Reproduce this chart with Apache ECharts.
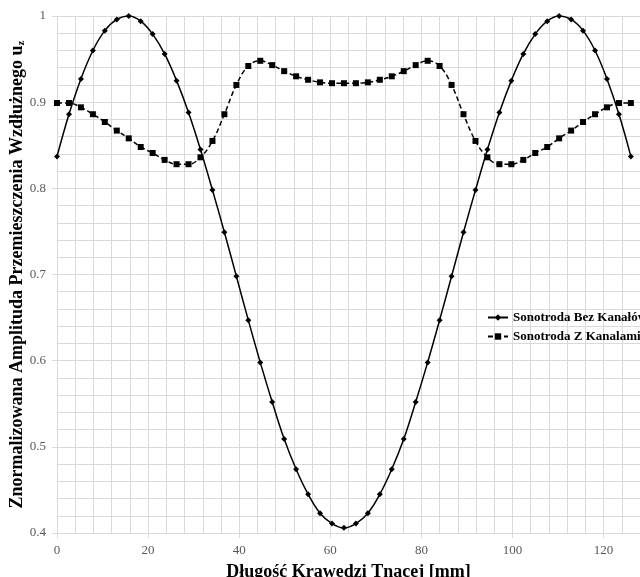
<!DOCTYPE html>
<html>
<head>
<meta charset="utf-8">
<script src="https://cdn.jsdelivr.net/npm/echarts@6/dist/echarts.min.js"></script>
<style>
    html, body { margin: 0; padding: 0; background: #fff; }
    #main { width: 640px; height: 577px; }
</style>
</head>
<body>
<div id="main"></div>
<script>
// położenie wzdłuż krawędzi [mm]
var xValues = [0, 2.63, 5.25, 7.88, 10.5, 13.13, 15.75, 18.38, 21, 23.63, 26.25, 28.88, 31.5, 34.13, 36.75, 39.38,
    42, 44.63, 47.25, 49.88, 52.5, 55.13, 57.75, 60.38, 63, 65.63, 68.25, 70.88, 73.5, 76.13, 78.75, 81.38,
    84, 86.63, 89.25, 91.88, 94.5, 97.13, 99.75, 102.38, 105, 107.63, 110.25, 112.88, 115.5, 118.13, 120.75, 123.38, 126];

// Sonotroda Bez Kanałów
var bezKanalow = [0.837, 0.886, 0.927, 0.960, 0.983, 0.996, 1.000, 0.994, 0.979, 0.956, 0.925, 0.888, 0.845, 0.798, 0.749, 0.698,
    0.647, 0.598, 0.552, 0.509, 0.474, 0.445, 0.423, 0.411, 0.406, 0.411, 0.423, 0.445, 0.474, 0.509, 0.552, 0.598,
    0.647, 0.698, 0.749, 0.798, 0.845, 0.888, 0.925, 0.956, 0.979, 0.994, 1.000, 0.996, 0.983, 0.960, 0.927, 0.886, 0.837];

// Sonotroda Z Kanalami
var zKanalami = [0.899, 0.899, 0.894, 0.886, 0.877, 0.867, 0.858, 0.848, 0.841, 0.833, 0.828, 0.828, 0.836, 0.855, 0.886, 0.920,
    0.942, 0.948, 0.943, 0.936, 0.930, 0.926, 0.923, 0.922, 0.922, 0.922, 0.923, 0.926, 0.930, 0.936, 0.943, 0.948,
    0.942, 0.920, 0.886, 0.855, 0.836, 0.828, 0.828, 0.833, 0.841, 0.848, 0.858, 0.867, 0.877, 0.886, 0.894, 0.899, 0.899];

var seriesNames = ['Sonotroda Bez Kanałów', 'Sonotroda Z Kanalami'];

function pairs(ys) {
    return ys.map(function (y, i) { return [xValues[i], y]; });
}

var font = '"Liberation Serif", "Times New Roman", serif';
var gridColor = '#d9d9d9';

var myChart = echarts.init(document.getElementById('main'));

var option = {
    animation: false,
    textStyle: { fontFamily: font },
    grid: { left: 57, right: 0, top: 16, bottom: 44, outerBoundsMode: 'none', containLabel: false },
    legend: {
        orient: 'vertical',
        left: 482,
        top: 306,
        itemWidth: 20,
        itemHeight: 8,
        itemGap: 6,
        data: seriesNames,
        textStyle: { fontFamily: font, fontWeight: 'bold', fontSize: 13, color: '#000' }
    },
    xAxis: {
        type: 'value',
        min: 0,
        max: 128,
        interval: 20,
        name: 'Długość Krawędzi Tnącej [mm]',
        nameLocation: 'middle',
        nameGap: 30,
        nameTextStyle: { fontFamily: font, fontWeight: 'bold', fontSize: 18, color: '#000' },
        axisLine: { show: true, lineStyle: { color: gridColor } },
        axisTick: { show: true, length: 5, lineStyle: { color: gridColor } },
        axisLabel: { color: '#595959', fontSize: 13, fontFamily: font, margin: 11, showMaxLabel: false },
        splitLine: { show: true, lineStyle: { color: gridColor, width: 1 } },
        minorTick: { show: false, splitNumber: 5 },
        minorSplitLine: { show: true, lineStyle: { color: gridColor, width: 1 } }
    },
    yAxis: {
        type: 'value',
        min: 0.4,
        max: 1,
        interval: 0.1,
        name: 'Znormalizowana Amplituda Przemieszczenia Wzdłużnego u{sub|z}',
        nameLocation: 'middle',
        nameGap: 30,
        nameMoveOverlap: false,
        nameTextStyle: {
            fontFamily: font, fontWeight: 'bold', fontSize: 18, color: '#000',
            rich: {
                sub: { fontFamily: font, fontWeight: 'bold', fontSize: 11, color: '#000', padding: [9, 0, 0, 0] }
            }
        },
        axisLine: { show: true, lineStyle: { color: gridColor } },
        axisTick: { show: true, length: 5, lineStyle: { color: gridColor } },
        axisLabel: {
            color: '#595959', fontSize: 13, fontFamily: font, margin: 11,
            formatter: function (v) { return v === 1 ? '1' : v.toFixed(1); }
        },
        splitLine: { show: true, lineStyle: { color: gridColor, width: 1 } },
        minorTick: { show: false, splitNumber: 5 },
        minorSplitLine: { show: true, lineStyle: { color: gridColor, width: 1 } }
    },
    series: [
        {
            name: seriesNames[0],
            type: 'line',
            smooth: 0.4,
            data: pairs(bezKanalow),
            symbol: 'diamond',
            symbolSize: 6,
            itemStyle: { color: '#000' },
            lineStyle: { color: '#000', width: 1.5, type: 'solid' },
            z: 3
        },
        {
            name: seriesNames[1],
            type: 'line',
            smooth: 0.4,
            data: pairs(zKanalami),
            symbol: 'rect',
            symbolSize: 6,
            itemStyle: { color: '#000' },
            lineStyle: { color: '#000', width: 1.5, type: [5, 3] },
            z: 2
        }
    ]
};

myChart.setOption(option);
</script>
</body>
</html>
